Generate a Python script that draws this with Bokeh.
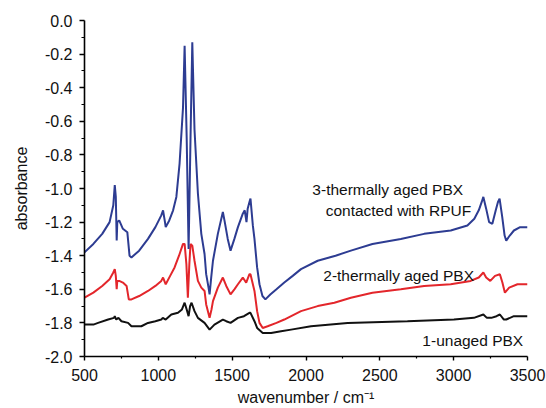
from bokeh.plotting import figure
from bokeh.models import FixedTicker, Label
from bokeh.embed import file_html
from bokeh.resources import INLINE

FONT = "'Liberation Sans', Arial, sans-serif"

# ---- data ----
wn_3 = [500, 560, 620, 670, 695, 705, 712, 718, 722, 735, 760, 790, 805, 818, 870, 930, 980,
        1020, 1032, 1045, 1050, 1074, 1100, 1122, 1144, 1160, 1167, 1178, 1192, 1205, 1218,
        1230, 1245, 1268, 1291, 1313, 1324, 1340, 1347, 1358, 1370, 1403, 1437, 1450, 1470,
        1489, 1515, 1539, 1572, 1585, 1597, 1605, 1617, 1624, 1640, 1651, 1669, 1685, 1705,
        1725, 1760, 1800, 1853, 1910, 1966, 2079, 2200, 2304, 2450, 2642, 2800, 2980, 3093,
        3140, 3170, 3190, 3201, 3220, 3240, 3262, 3285, 3300, 3311, 3329, 3345, 3356, 3380,
        3408, 3450, 3500]
abs_3 = [-1.38, -1.33, -1.27, -1.20, -1.10, -0.98, -1.05, -1.31, -1.20, -1.19, -1.24, -1.26,
         -1.40, -1.41, -1.37, -1.30, -1.23, -1.16, -1.13, -1.20, -1.23, -1.19, -1.13, -1.05,
         -0.85, -0.62, -0.52, -0.15, -0.70, -1.36, -0.70, -0.13, -0.65, -1.03, -1.27, -1.39,
         -1.51, -1.59, -1.63, -1.53, -1.43, -1.27, -1.14, -1.20, -1.30, -1.37, -1.30, -1.23,
         -1.15, -1.13, -1.20, -1.12, -1.08, -1.06, -1.22, -1.30, -1.47, -1.57, -1.64, -1.66,
         -1.63, -1.60, -1.56, -1.52, -1.48, -1.43, -1.40, -1.37, -1.33, -1.30, -1.27, -1.25,
         -1.22, -1.18, -1.13, -1.08, -1.05, -1.12, -1.20, -1.21, -1.13, -1.08, -1.06, -1.17,
         -1.28, -1.31, -1.28, -1.25, -1.23, -1.23]

wn_2 = [500, 560, 620, 670, 695, 705, 712, 718, 722, 735, 760, 785, 800, 818, 870, 930, 980,
        1020, 1032, 1050, 1080, 1110, 1140, 1167, 1178, 1190, 1200, 1210, 1218, 1230, 1245,
        1268, 1291, 1313, 1324, 1347, 1360, 1370, 1403, 1437, 1460, 1489, 1515, 1539, 1572,
        1595, 1617, 1624, 1651, 1669, 1685, 1707, 1740, 1800, 1853, 1966, 2079, 2192, 2304,
        2450, 2642, 2800, 2980, 3115, 3170, 3201, 3220, 3248, 3280, 3313, 3330, 3347, 3376,
        3432, 3500]
abs_2 = [-1.65, -1.62, -1.58, -1.54, -1.50, -1.48, -1.52, -1.60, -1.55, -1.55, -1.56, -1.58,
         -1.66, -1.66, -1.64, -1.61, -1.58, -1.55, -1.53, -1.57, -1.52, -1.47, -1.40, -1.33,
         -1.33, -1.45, -1.65, -1.45, -1.33, -1.34, -1.43, -1.55, -1.59, -1.61, -1.69, -1.77,
         -1.72, -1.67, -1.59, -1.53, -1.58, -1.63, -1.60, -1.57, -1.53, -1.56, -1.51, -1.51,
         -1.61, -1.73, -1.80, -1.83, -1.82, -1.80, -1.78, -1.73, -1.70, -1.68, -1.65, -1.62,
         -1.60, -1.58, -1.57, -1.55, -1.53, -1.50, -1.53, -1.55, -1.52, -1.51, -1.56, -1.62,
         -1.59, -1.57, -1.57]

wn_1 = [500, 560, 592, 660, 700, 705, 715, 730, 750, 795, 818, 885, 930, 980, 1020, 1030,
        1050, 1088, 1133, 1160, 1178, 1192, 1205, 1215, 1225, 1245, 1268, 1313, 1347, 1380,
        1437, 1460, 1489, 1539, 1580, 1617, 1624, 1651, 1669, 1707, 1764, 1831, 1899, 2034,
        2282, 2687, 3002, 3137, 3201, 3225, 3255, 3290, 3313, 3340, 3356, 3408, 3500]
abs_1 = [-1.81, -1.81, -1.80, -1.78, -1.77, -1.76, -1.78, -1.77, -1.79, -1.80, -1.82, -1.82,
         -1.80, -1.79, -1.78, -1.77, -1.78, -1.75, -1.74, -1.72, -1.68, -1.72, -1.76, -1.70,
         -1.68, -1.73, -1.77, -1.80, -1.84, -1.81, -1.78, -1.79, -1.80, -1.77, -1.76, -1.74,
         -1.74, -1.79, -1.83, -1.86, -1.86, -1.85, -1.84, -1.82, -1.80, -1.79, -1.78, -1.77,
         -1.75, -1.77, -1.77, -1.76, -1.75, -1.78, -1.78, -1.76, -1.76]

x_ticks = [500, 1000, 1500, 2000, 2500, 3000, 3500]
x_minor = [750, 1250, 1750, 2250, 2750, 3250]
y_ticks = [0.0, -0.2, -0.4, -0.6, -0.8, -1.0, -1.2, -1.4, -1.6, -1.8, -2.0]
y_minor = [-0.1, -0.3, -0.5, -0.7, -0.9, -1.1, -1.3, -1.5, -1.7, -1.9]
y_tick_labels = ["0.0", "-0.2", "-0.4", "-0.6", "-0.8", "-1.0", "-1.2", "-1.4", "-1.6", "-1.8", "-2.0"]

series_labels = ["3-thermally aged PBX", "contacted with RPUF", "2-thermally aged PBX", "1-unaged PBX"]

# ---- figure ----
p = figure(width=546, height=408, output_backend="svg", toolbar_location=None,
           x_range=(500, 3500), y_range=(-2.0, 0.0),
           min_border_left=84, min_border_right=19, min_border_top=20, min_border_bottom=52)
p.outline_line_color = None
p.grid.visible = False
p.background_fill_color = "white"
p.border_fill_color = "white"

p.line(wn_1, abs_1, line_color="#111111", line_width=2)
p.line(wn_2, abs_2, line_color="#e3262b", line_width=2)
p.line(wn_3, abs_3, line_color="#2d3c92", line_width=2)

for ax in (p.xaxis[0], p.yaxis[0]):
    ax.axis_line_color = "black"
    ax.axis_line_width = 1.6
    ax.major_tick_line_color = "black"
    ax.major_tick_line_width = 1.4
    ax.minor_tick_line_color = "black"
    ax.minor_tick_line_width = 1.2
    ax.major_tick_in = 0
    ax.minor_tick_in = 0
    ax.major_label_text_font = FONT
    ax.major_label_text_font_size = "16px"
    ax.major_label_text_color = "#111111"
    ax.axis_label_text_font = FONT
    ax.axis_label_text_font_size = "16px"
    ax.axis_label_text_font_style = "normal"
    ax.axis_label_text_color = "#111111"

p.xaxis.ticker = FixedTicker(ticks=x_ticks, minor_ticks=x_minor)
p.yaxis.ticker = FixedTicker(ticks=y_ticks, minor_ticks=y_minor)
p.yaxis.major_label_overrides = {t: l for t, l in zip(y_ticks, y_tick_labels)}
p.xaxis.major_label_overrides = {t: str(t) for t in x_ticks}

p.xaxis.major_tick_out = 4
p.xaxis.minor_tick_out = 2
p.yaxis.major_tick_out = 5
p.yaxis.minor_tick_out = 3
p.xaxis.major_label_standoff = 8
p.yaxis.major_label_standoff = 7
p.xaxis.axis_label = "wavenumber / cm\u207b\u00b9"
p.yaxis.axis_label = "absorbance"
p.xaxis.axis_label_standoff = 5
p.yaxis.axis_label_standoff = 12

label_pos = [(2043, -1.008), (2133, -1.131), (2117, -1.518), (2788, -1.905)]
for txt, (lx, ly) in zip(series_labels, label_pos):
    p.add_layout(Label(x=lx, y=ly, text=txt, text_font=FONT, text_font_size="15.5px",
                       text_color="#111111", text_baseline="middle", text_align="left"))

open("out.html", "w").write(file_html(p, INLINE))
